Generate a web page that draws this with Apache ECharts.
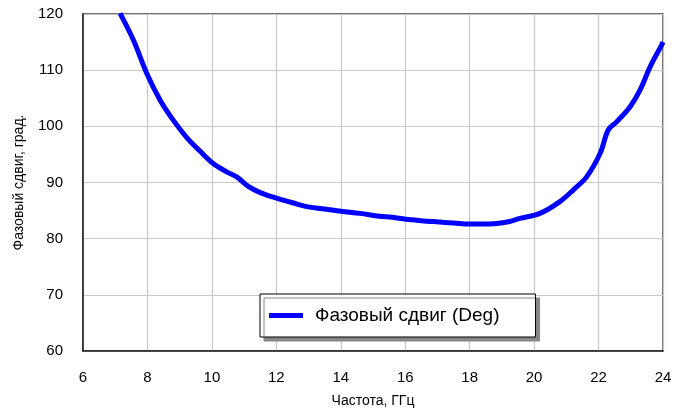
<!DOCTYPE html>
<html>
<head>
<meta charset="utf-8">
<script src="https://cdn.jsdelivr.net/npm/echarts@6/dist/echarts.min.js"></script>
<style>
  html, body { margin: 0; padding: 0; background: #fff; }
  #chart { width: 688px; height: 414px; }
</style>
</head>
<body>
<div id="chart"></div>
<script>
// частота, ГГц
const freq = [7.15, 7.56, 7.98, 8.39, 8.8, 9.22, 9.63, 10.04, 10.46, 10.77, 11.13, 11.5, 12.01, 12.5, 12.94, 13.5, 14.0, 14.6, 15.2, 15.6, 16.02, 16.5, 16.98, 17.5, 18.01, 18.4, 18.84, 19.2, 19.56, 20.18, 20.8, 21.22, 21.63, 22.05, 22.3, 22.56, 22.98, 23.29, 23.6, 23.96, 24.0];
// фазовый сдвиг, град.
const phase = [120.1, 115.4, 109.4, 104.7, 101.1, 98.0, 95.6, 93.4, 91.9, 91.0, 89.3, 88.2, 87.2, 86.4, 85.7, 85.3, 84.9, 84.5, 84.0, 83.8, 83.45, 83.2, 83.0, 82.8, 82.6, 82.6, 82.7, 83.0, 83.6, 84.5, 86.6, 88.7, 91.0, 95.2, 99.35, 100.8, 103.5, 106.5, 110.6, 114.5, 115.0];

const xTicks = [6, 8, 10, 12, 14, 16, 18, 20, 22, 24];
const yTicks = [60, 70, 80, 90, 100, 110, 120];

const font = 'Liberation Sans, Arial, sans-serif';
let myChart = echarts.init(document.querySelector('#chart'));
myChart.setOption({
    animation: false,
    grid: {
        left: 83, top: 14, right: 25, bottom: 63,
        show: true, borderColor: '#404040', borderWidth: 1.5
    },
    legend: {
        left: 260, top: 294,
        padding: [12, 36, 12, 9],
        backgroundColor: '#fff',
        borderColor: '#000', borderWidth: 1,
        shadowColor: '#888', shadowOffsetX: 4, shadowOffsetY: 4, shadowBlur: 0,
        icon: 'rect', itemWidth: 34, itemHeight: 5,
        textStyle: { fontFamily: font, fontSize: 19, color: '#000', padding: [0, 0, 0, 7] },
        data: ['Фазовый сдвиг (Deg)']
    },
    xAxis: {
        type: 'value', min: xTicks[0], max: xTicks[xTicks.length - 1], interval: 2,
        name: 'Частота, ГГц', nameLocation: 'middle', nameGap: 43,
        nameTextStyle: { fontFamily: font, fontSize: 14, color: '#000' },
        axisLine: { lineStyle: { color: '#202020', width: 1.5 } },
        axisTick: { show: false },
        axisLabel: { fontFamily: font, fontSize: 15, color: '#000', margin: 19 },
        splitLine: { lineStyle: { color: '#c8c8c8', width: 1.2 } }
    },
    yAxis: {
        type: 'value', min: yTicks[0], max: yTicks[yTicks.length - 1], interval: 10,
        name: 'Фазовый сдвиг, град.', nameLocation: 'middle', nameGap: 57,
        nameTextStyle: { fontFamily: font, fontSize: 14, color: '#000' },
        axisLine: { lineStyle: { color: '#202020', width: 1.5 } },
        axisTick: { show: false },
        axisLabel: { fontFamily: font, fontSize: 15, color: '#000', margin: 20 },
        splitLine: { lineStyle: { color: '#c8c8c8', width: 1.2 } }
    },
    series: [{
        name: 'Фазовый сдвиг (Deg)',
        type: 'line',
        smooth: 0.35,
        showSymbol: false,
        lineStyle: { color: '#0000ff', width: 5 },
        itemStyle: { color: '#0000ff' },
        data: freq.map((f, i) => [f, phase[i]])
    }]
});
</script>
</body>
</html>
